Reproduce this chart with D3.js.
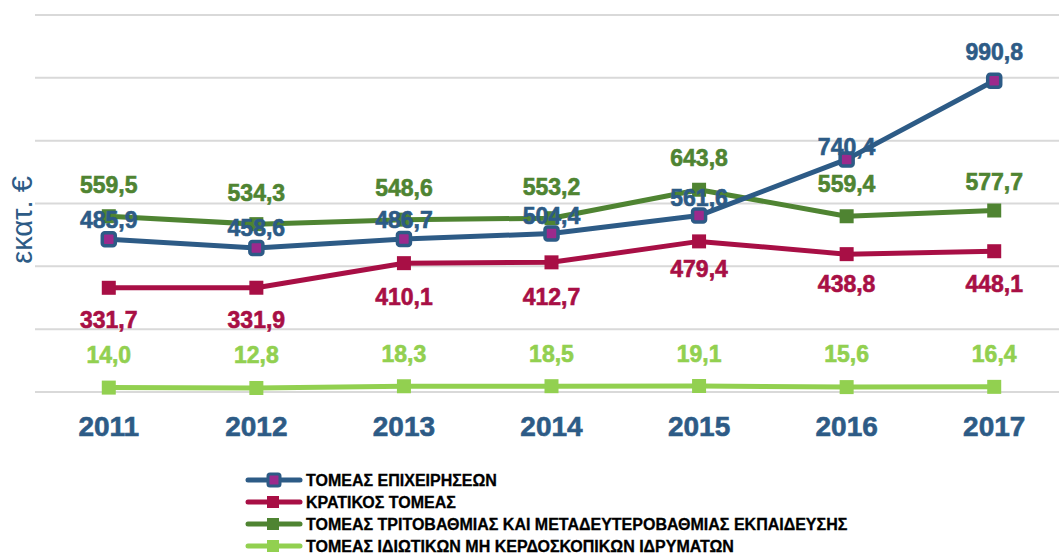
<!DOCTYPE html>
<html>
<head>
<meta charset="utf-8">
<script src="https://cdn.jsdelivr.net/npm/d3@7"></script>
<style>
  body { margin: 0; background: #fff; }
  svg { display: block; font-family: "Liberation Sans", Arial, sans-serif; }
</style>
</head>
<body>
<svg width="1059" height="554"></svg>
<script>
const years = ["2011", "2012", "2013", "2014", "2015", "2016", "2017"];
const business = [485.9, 458.6, 486.7, 504.4, 561.6, 740.4, 990.8];
const government = [331.7, 331.9, 410.1, 412.7, 479.4, 438.8, 448.1];
const higherEd = [559.5, 534.3, 548.6, 553.2, 643.8, 559.4, 577.7];
const privateNonProfit = [14.0, 12.8, 18.3, 18.5, 19.1, 15.6, 16.4];
const seriesNames = [
  "ΤΟΜΕΑΣ ΕΠΙΧΕΙΡΗΣΕΩΝ",
  "ΚΡΑΤΙΚΟΣ ΤΟΜΕΑΣ",
  "ΤΟΜΕΑΣ ΤΡΙΤΟΒΑΘΜΙΑΣ ΚΑΙ ΜΕΤΑΔΕΥΤΕΡΟΒΑΘΜΙΑΣ ΕΚΠΑΙΔΕΥΣΗΣ",
  "ΤΟΜΕΑΣ ΙΔΙΩΤΙΚΩΝ ΜΗ ΚΕΡΔΟΣΚΟΠΙΚΩΝ ΙΔΡΥΜΑΤΩΝ"
];
const yTicks = [0, 200, 400, 600, 800, 1000, 1200];

// styles per series (label offsets in px, relative to the point)
const series = [
  { name: seriesNames[0], values: business, color: "#2d5b86", inner: "#9b2a8c", dy: [-19, -20, -19, -18, -18, -12, -29] },
  { name: seriesNames[1], values: government, color: "#a80f45", dy: [32, 32, 34, 35, 28, 30, 33] },
  { name: seriesNames[2], values: higherEd, color: "#4f8432", dy: [-31, -31, -32, -31, -32, -32, -29] },
  { name: seriesNames[3], values: privateNonProfit, color: "#92d050", dy: [-33, -33, -32, -32, -32, -33, -33] }
];

const svg = d3.select("svg");
const x = d3.scaleBand().domain(years).range([35, 1068]);
const y = d3.scaleLinear().domain([0, 1200]).range([392, 15]);
const fmt = v => d3.format(".1f")(v).replace(".", ",");

// gridlines
svg.append("g")
  .selectAll("line")
  .data(yTicks)
  .join("line")
  .attr("x1", 35).attr("x2", 1059)
  .attr("y1", d => y(d)).attr("y2", d => y(d))
  .attr("stroke", "#d9d9d9").attr("stroke-width", 2);

// x axis labels
const xAxis = svg.append("g")
  .attr("transform", "translate(0,392)")
  .call(d3.axisBottom(x).tickSize(0).tickPadding(24));
xAxis.select(".domain").remove();
xAxis.selectAll("text")
  .attr("font-family", "Liberation Sans, Arial, sans-serif")
  .attr("font-size", 28).attr("font-weight", "bold")
  .attr("fill", "#2d5b86")
  .attr("stroke", "#2d5b86").attr("stroke-width", 0.6);

// y title
svg.append("text")
  .attr("transform", "translate(32,220) rotate(-90)")
  .attr("text-anchor", "middle")
  .attr("font-size", 29)
  .attr("fill", "#2d5b86")
  .text("εκατ. €");

const line = d3.line()
  .x((d, i) => x(years[i]) + x.bandwidth() / 2)
  .y(d => y(d));

// draw order: light green, red, green, blue on top
[3, 1, 2, 0].forEach(k => {
  const s = series[k];
  const g = svg.append("g");
  g.append("path")
    .attr("d", line(s.values))
    .attr("fill", "none")
    .attr("stroke", s.color).attr("stroke-width", 5)
    .attr("stroke-linejoin", "round");
  const pts = g.selectAll("g.pt")
    .data(s.values)
    .join("g")
    .attr("transform", (d, i) => `translate(${x(years[i]) + x.bandwidth() / 2},${y(d)})`);
  if (s.inner) {
    pts.append("rect")
      .attr("x", -6.5).attr("y", -6.5).attr("width", 13).attr("height", 13)
      .attr("rx", 2.5)
      .attr("fill", s.inner).attr("stroke", s.color).attr("stroke-width", 3.5);
  } else {
    pts.append("rect")
      .attr("x", -7).attr("y", -7).attr("width", 14).attr("height", 14)
      .attr("fill", s.color);
  }
});

// data labels
series.forEach(s => {
  svg.append("g")
    .selectAll("text")
    .data(s.values)
    .join("text")
    .attr("x", (d, i) => x(years[i]) + x.bandwidth() / 2)
    .attr("y", (d, i) => y(d) + s.dy[i])
    .attr("dy", "0.35em")
    .attr("text-anchor", "middle")
    .attr("font-size", 23).attr("font-weight", "bold")
    .attr("fill", s.color)
    .attr("stroke", s.color).attr("stroke-width", 0.6)
    .text(d => fmt(d));
});

// legend
const legend = svg.append("g").attr("transform", "translate(248,480)");
series.forEach((s, i) => {
  const row = legend.append("g").attr("transform", `translate(0,${i * 22})`);
  row.append("line")
    .attr("x1", 0).attr("x2", 52)
    .attr("stroke", s.color).attr("stroke-width", 5)
    .attr("stroke-linecap", "round");
  if (s.inner) {
    row.append("rect")
      .attr("x", 20).attr("y", -6).attr("width", 12).attr("height", 12).attr("rx", 2)
      .attr("fill", s.inner).attr("stroke", s.color).attr("stroke-width", 3);
  } else {
    row.append("rect")
      .attr("x", 19).attr("y", -6).attr("width", 12).attr("height", 12)
      .attr("fill", s.color);
  }
  row.append("text")
    .attr("x", 58).attr("dy", "0.35em")
    .attr("font-size", 16).attr("font-weight", "bold")
    .attr("fill", "#000")
    .attr("stroke", "#000").attr("stroke-width", 0.3)
    .text(s.name);
});
</script>
</body>
</html>
